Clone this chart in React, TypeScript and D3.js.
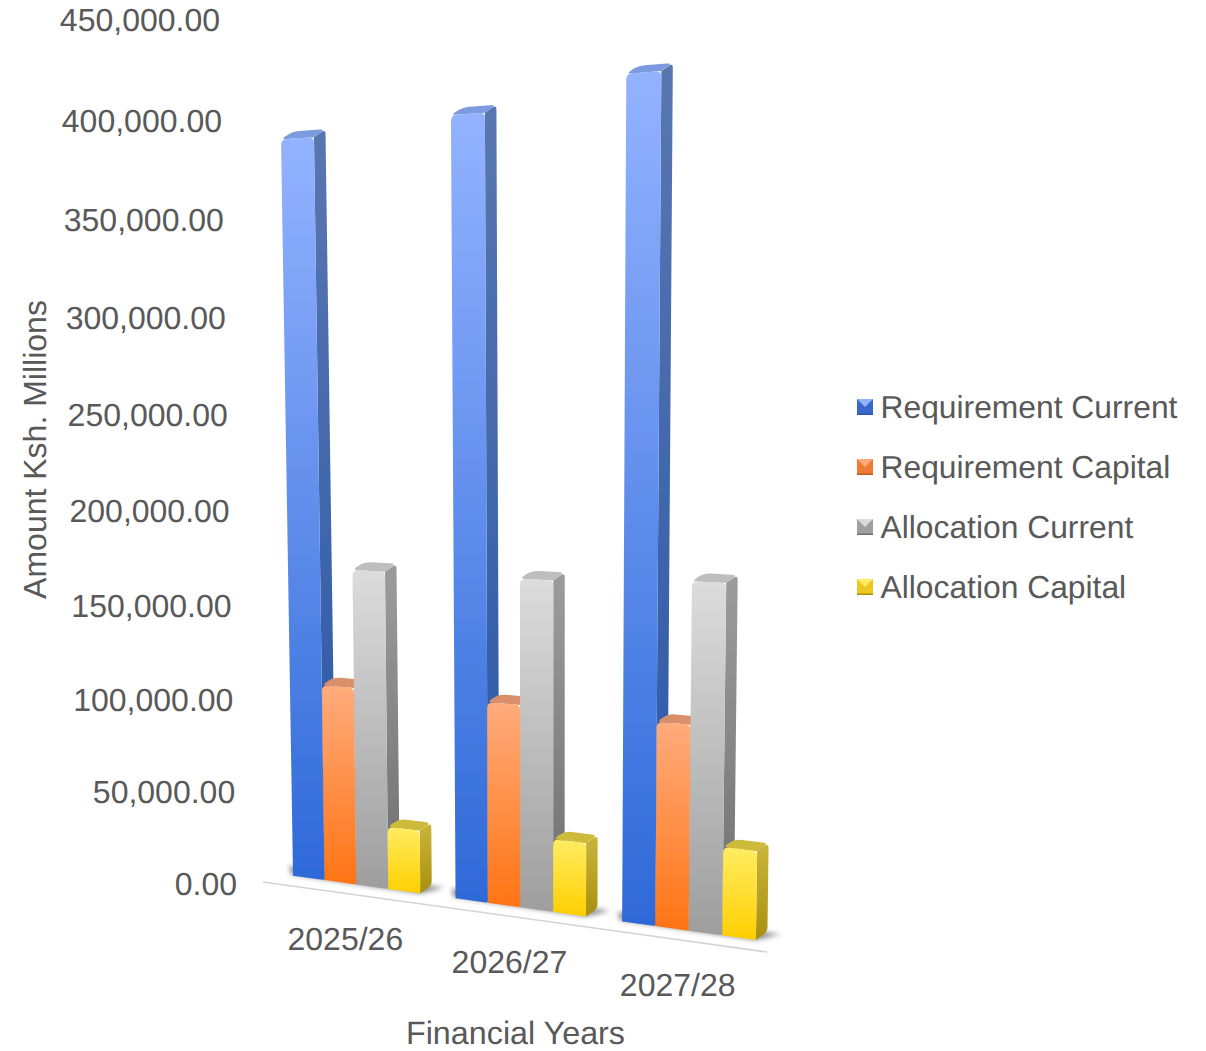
import React from "react";
import * as d3 from "d3";

const years = ["2025/26", "2026/27", "2027/28"];
const seriesNames = ["Requirement Current", "Requirement Capital", "Allocation Current", "Allocation Capital"];
const requirementCurrent = [385000, 391000, 404000];
const requirementCapital = [104500, 103000, 100500];
const allocationCurrent = [166000, 166000, 169000];
const allocationCapital = [33000, 37000, 43000];
const seriesValues = [requirementCurrent, requirementCapital, allocationCurrent, allocationCapital];
const tickValues = [0, 50000, 100000, 150000, 200000, 250000, 300000, 350000, 400000, 450000];

const palette = [
  { top: "#93B3FF", bottom: "#2E69D8", sideTop: "#5A76B0", sideBottom: "#2857A8", cap: "#7E9ADF", legend: "#3A68C8" },
  { top: "#FFAB7C", bottom: "#FF7414", sideTop: "#C98A66", sideBottom: "#B85C20", cap: "#D98F6A", legend: "#EE7A36" },
  { top: "#DCDCDC", bottom: "#9E9E9E", sideTop: "#9C9C9C", sideBottom: "#6E6E6E", cap: "#BEBEBE", legend: "#A0A0A0" },
  { top: "#FFEC62", bottom: "#FFCF00", sideTop: "#C9B53A", sideBottom: "#A88F10", cap: "#CDBA3A", legend: "#EEC820" },
];

type Pt = [number, number];

// Perspective plane of the bars' front faces, from the unit square to pixels
const P00: Pt = [277, 873.5];
const P10: Pt = [781, 943.5];
const P11: Pt = [796, -46.5];
const P01: Pt = [262, 10];
const depthVec: Pt = [11.5, -8];
const warpStrength = 0.1;

function makeHomography(p0: Pt, p1: Pt, p2: Pt, p3: Pt) {
  const dx1 = p1[0] - p2[0], dx2 = p3[0] - p2[0], sx = p0[0] - p1[0] + p2[0] - p3[0];
  const dy1 = p1[1] - p2[1], dy2 = p3[1] - p2[1], sy = p0[1] - p1[1] + p2[1] - p3[1];
  const den = dx1 * dy2 - dx2 * dy1;
  const g = (sx * dy2 - dx2 * sy) / den;
  const h = (dx1 * sy - sx * dy1) / den;
  const a = p1[0] - p0[0] + g * p1[0], b = p3[0] - p0[0] + h * p3[0], c = p0[0];
  const d = p1[1] - p0[1] + g * p1[1], e = p3[1] - p0[1] + h * p3[1], f = p0[1];
  return (u: number, v: number): Pt => {
    const w = g * u + h * v + 1;
    return [(a * u + b * v + c) / w, (d * u + e * v + f) / w];
  };
}
const plane = makeHomography(P00, P10, P11, P01);

const vScale = d3.scaleLinear().domain([0, 450000]).range([0, 1]);
const uBand = d3.scaleBand<string>().domain(years).range([0, 0.985]).paddingInner(0.215).paddingOuter(0.1);
const uSeries = d3.scaleBand<string>().domain(seriesNames).range([0, 1]);
const warp = (t: number) => (t * (1 + warpStrength)) / (1 + warpStrength * t);

function project(u: number, value: number, depth: number): Pt {
  const [x, y] = plane(warp(u), vScale(value));
  return [x + depth * depthVec[0], y + depth * depthVec[1]];
}

// closed path; radii[i] rounds corner i
function roundedPath(points: Pt[], radii: number[]): string {
  const n = points.length;
  const path = d3.path();
  points.forEach((p, i) => {
    const prev = points[(i + n - 1) % n];
    const next = points[(i + 1) % n];
    const r = radii[i];
    const lp = Math.hypot(prev[0] - p[0], prev[1] - p[1]) || 1;
    const ln = Math.hypot(next[0] - p[0], next[1] - p[1]) || 1;
    const rp = Math.min(r, lp / 2), rn = Math.min(r, ln / 2);
    const a: Pt = [p[0] + ((prev[0] - p[0]) / lp) * rp, p[1] + ((prev[1] - p[1]) / lp) * rp];
    const b: Pt = [p[0] + ((next[0] - p[0]) / ln) * rn, p[1] + ((next[1] - p[1]) / ln) * rn];
    if (i === 0) path.moveTo(a[0], a[1]);
    else path.lineTo(a[0], a[1]);
    path.quadraticCurveTo(p[0], p[1], b[0], b[1]);
  });
  path.closePath();
  return path.toString();
}

const textColor = "#595959";
const fontFamily = "'Liberation Sans', Arial, sans-serif";

export default function App() {
  const bandW = uBand.bandwidth();
  return (
    <svg
      width={1206}
      height={1051}
      viewBox="0 0 1206 1051"
      style={{ position: "absolute", left: 0, top: 0, background: "#fff", textRendering: "geometricPrecision" }}
      fontFamily={fontFamily}
    >
      <defs>
        <filter id="soft" x="-5%" y="-5%" width="110%" height="110%">
          <feGaussianBlur stdDeviation="0.5" />
        </filter>
        <filter id="shadow" x="-20%" y="-60%" width="140%" height="220%">
          <feGaussianBlur stdDeviation="2.4" />
        </filter>
        {palette.map((c, i) => (
          <React.Fragment key={i}>
            <linearGradient id={`front${i}`} x1="0" y1="0" x2="0" y2="1">
              <stop offset="0" stopColor={c.top} />
              <stop offset="1" stopColor={c.bottom} />
            </linearGradient>
            <linearGradient id={`side${i}`} x1="0" y1="0" x2="0" y2="1">
              <stop offset="0" stopColor={c.sideTop} />
              <stop offset="1" stopColor={c.sideBottom} />
            </linearGradient>
          </React.Fragment>
        ))}
      </defs>

      {/* axis floor line */}
      <line x1={263} y1={882} x2={767} y2={952} stroke="#D4D4D4" strokeWidth={1.6} />

      {/* ground shadows */}
      <g filter="url(#shadow)">
        {years.map((yr) => {
          const u0 = uBand(yr)!;
          const u1 = u0 + bandW;
          const pts = [
            project(u0 - 0.006, 0, 0.1),
            project(u1, 0, 0),
            project(u1 + 0.026, 0, 0.95),
            project(u0 - 0.03, 0, 0.95),
          ];
          return <path key={yr} d={roundedPath(pts, [0, 0, 0, 0])} fill="#8A8A8A" />;
        })}
      </g>

      {/* bars */}
      <g filter="url(#soft)">
        {years.map((yr, yi) => {
          const u0 = uBand(yr)!;
          return seriesNames.map((name, si) => {
            const a = u0 + uSeries(name)! * bandW;
            const b = a + uSeries.bandwidth() * bandW;
            const val = seriesValues[si][yi];
            const bl = project(a, 0, 0);
            const br = project(b, 0, 0);
            const tr = project(b, val, 0);
            const tl = project(a, val, 0);
            const brB = project(b, 0, 1);
            const trB = project(b, val, 1);
            const tlB = project(a, val, 1);
            return (
              <g key={yr + name}>
                <path d={roundedPath([br, tr, trB, brB], [0, 0, 5, 5])} fill={`url(#side${si})`} />
                <path d={roundedPath([tl, tr, trB, tlB], [5, 0, 6, 7])} fill={palette[si].cap} />
                <path d={roundedPath([bl, br, tr, tl], [0, 2, 5, 6])} fill={`url(#front${si})`} />
              </g>
            );
          });
        })}
      </g>

      {/* value ticks */}
      {tickValues.map((t) => {
        const [x, y] = plane(0, vScale(t));
        return (
          <text key={t} x={x - 40 - 2 * vScale(t)} y={y + 21} textAnchor="end" fontSize={32} fill={textColor}>
            {d3.format(",.2f")(t)}
          </text>
        );
      })}

      {/* category labels */}
      {years.map((yr) => {
        const [x, y] = project(uBand(yr)! + bandW / 2, 0, 0);
        return (
          <text key={yr} x={x - 11} y={y + 65.5} textAnchor="middle" fontSize={32} fill={textColor}>
            {yr}
          </text>
        );
      })}

      {/* axis titles */}
      <text x={515.5} y={1044} textAnchor="middle" fontSize={32.3} fill={textColor}>
        Financial Years
      </text>
      <text
        transform="translate(46 449.5) rotate(-90)"
        textAnchor="middle"
        fontSize={32}
        fill={textColor}
      >
        Amount Ksh. Millions
      </text>

      {/* legend */}
      {seriesNames.map((name, i) => {
        const top = 399 + i * 60;
        const L = 857, S = 16;
        const cx = L + S / 2, cy = top + S / 2;
        const c = palette[i];
        return (
          <g key={name}>
            <rect x={L} y={top} width={S} height={S} fill={c.legend} />
            <path d={`M${L},${top}H${L + S}L${cx},${cy}Z`} fill={c.top} />
            <rect x={L} y={top + S - 1.5} width={S} height={1.5} fill={c.sideBottom} />
            <text x={880.5} y={top + 19} fontSize={31.8} fill={textColor}>
              {name}
            </text>
          </g>
        );
      })}
    </svg>
  );
}
